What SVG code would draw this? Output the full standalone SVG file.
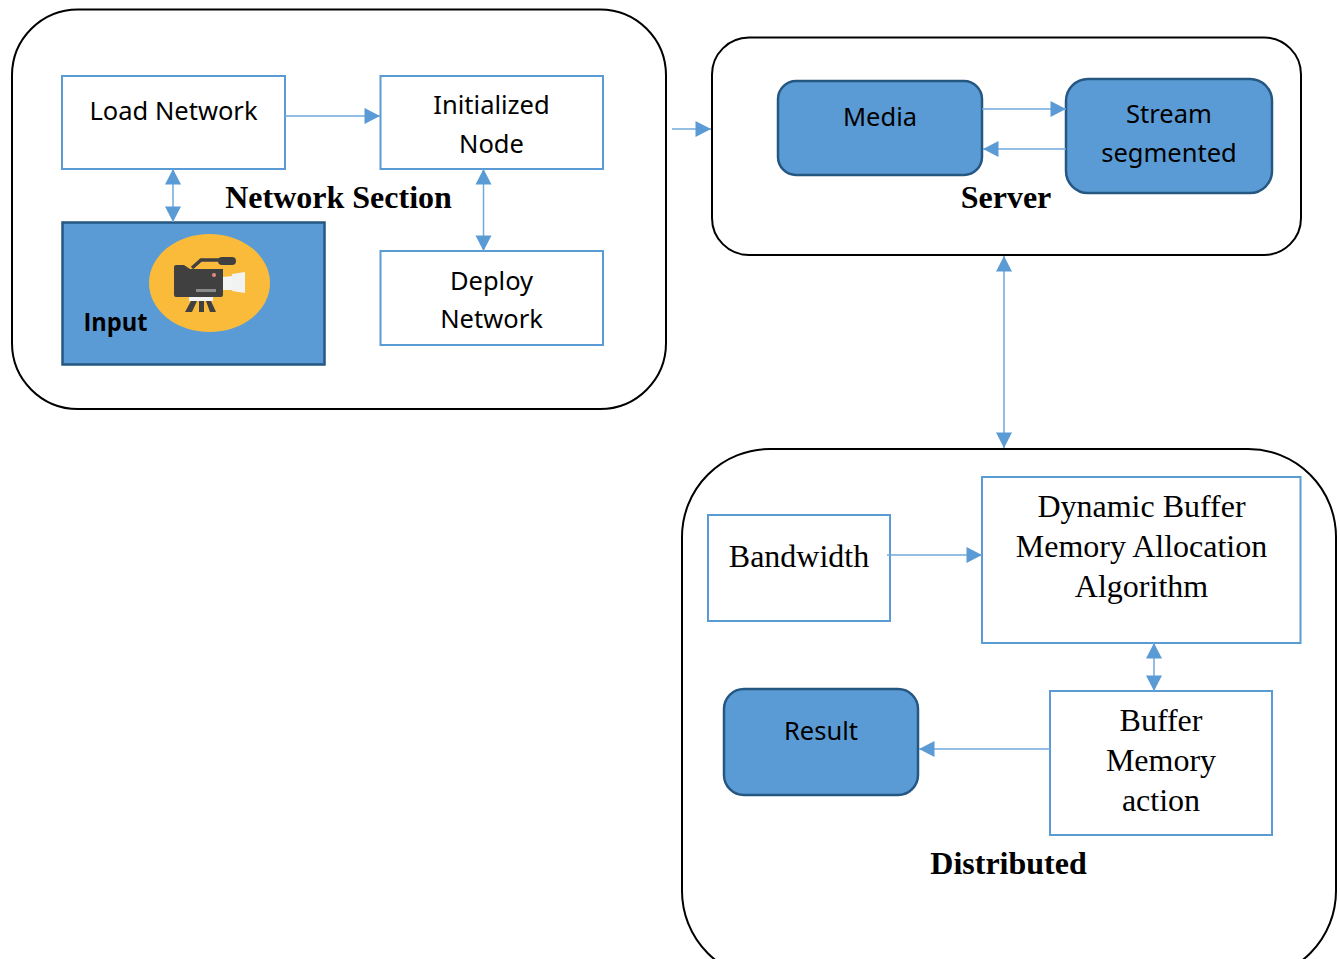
<svg xmlns="http://www.w3.org/2000/svg" width="1340" height="959" viewBox="0 0 1340 959">
<style>
.sec{fill:#fff;stroke:#000;stroke-width:2}
.box{fill:#fff;stroke:#5b9bd5;stroke-width:2}
.fill{fill:#5b9bd5;stroke:#255783;stroke-width:2.5}
.c{fill:none;stroke:#72a9db;stroke-width:1.5}
.s{font-family:"Noto Sans","Open Sans",sans-serif;font-size:25.500px;fill:#000;text-anchor:middle}
.t{font-family:"Liberation Serif",serif;font-size:32px;fill:#000;text-anchor:middle}
.b{font-family:"Liberation Serif",serif;font-size:32px;font-weight:bold;fill:#000;text-anchor:middle}
</style>
<defs>
<marker id="e" markerUnits="userSpaceOnUse" markerWidth="17" markerHeight="17" refX="16" refY="8.500" orient="auto-start-reverse"><path d="M0.500 0.500L16 8.500L0.500 16.500Z" fill="#5b9bd5"/></marker>
</defs>
<rect width="1340" height="959" fill="#fff"/>
<g id="network-section">
<rect class="sec" x="12" y="9.500" width="654" height="399.500" rx="66"/>
<text class="b" x="338.500" y="208">Network Section</text>
</g>
<g id="server">
<rect class="sec" x="712" y="37.500" width="589" height="217.500" rx="37"/>
<text class="b" x="1006" y="208">Server</text>
</g>
<g id="distributed">
<rect class="sec" x="682" y="449" width="654" height="530" rx="88"/>
<text class="b" x="1008.500" y="874">Distributed</text>
</g>
<g id="load-network">
<rect class="box" x="62" y="76" width="223" height="93"/>
<text class="s" x="173.500" y="120">Load Network</text>
</g>
<g id="initialized-node">
<rect class="box" x="380.500" y="76" width="222.500" height="93"/>
<text class="s" x="491.500" y="114">Initialized</text>
<text class="s" x="491.500" y="153">Node</text>
</g>
<g id="deploy-network">
<rect class="box" x="380.500" y="251" width="222.500" height="94"/>
<text class="s" x="491.500" y="290">Deploy</text>
<text class="s" x="491.500" y="328">Network</text>
</g>
<g id="input">
<rect class="fill" x="62.500" y="222.500" width="262" height="142"/>
<ellipse cx="209.500" cy="283" rx="60.500" ry="49" fill="#fbbb3a"/>
<path d="M192 268L201 260H222" fill="none" stroke="#404040" stroke-width="3.500"/>
<rect x="218" y="257" width="18" height="8" rx="4" fill="#404040"/>
<path d="M174 267Q174 265 176 265H184L190 269H223V295Q223 297 221 297H176Q174 297 174 295Z" fill="#404040"/>
<circle cx="214" cy="275" r="2" fill="#e88a80"/>
<rect x="196" y="289" width="20" height="3" fill="#8a8a8a"/>
<path d="M223 277L232 276V290L223 290Z" fill="#f4f4f4"/>
<path d="M232 274L245 272V293L232 291Z" fill="#f1f3f3"/>
<rect x="189" y="297" width="24" height="4" fill="#f4f4f4"/>
<path d="M191 301H197L192 312H185ZM199 301H204V312H199ZM206 301H211L216 312H210Z" fill="#404040"/>
<text x="115.500" y="331" font-family="'Open Sans','Noto Sans',sans-serif" font-size="25" font-weight="700" text-anchor="middle" textLength="64" lengthAdjust="spacingAndGlyphs">Input</text>
</g>
<g id="media">
<rect class="fill" x="778" y="81" width="204" height="94" rx="18"/>
<text class="s" x="880" y="126">Media</text>
</g>
<g id="stream-segmented">
<rect class="fill" x="1066" y="79" width="206" height="114" rx="22"/>
<text class="s" x="1169" y="123">Stream</text>
<text class="s" x="1169" y="162">segmented</text>
</g>
<g id="bandwidth">
<rect class="box" x="708" y="515" width="182" height="106"/>
<text class="t" x="799" y="567">Bandwidth</text>
</g>
<g id="dynamic-buffer">
<rect class="box" x="982" y="477" width="318.500" height="166"/>
<text class="t" x="1141.500" y="517">Dynamic Buffer</text>
<text class="t" x="1141.500" y="557">Memory Allocation</text>
<text class="t" x="1141.500" y="597">Algorithm</text>
</g>
<g id="buffer-memory">
<rect class="box" x="1050" y="691" width="222" height="144"/>
<text class="t" x="1161" y="731">Buffer</text>
<text class="t" x="1161" y="771">Memory</text>
<text class="t" x="1161" y="811">action</text>
</g>
<g id="result">
<rect class="fill" x="724" y="689" width="194" height="106" rx="20"/>
<text class="s" x="821" y="740">Result</text>
</g>
<g id="connectors">
<path class="c" d="M285 116H380" marker-end="url(#e)"/>
<path class="c" d="M173 169V222" marker-start="url(#e)" marker-end="url(#e)"/>
<path class="c" d="M483.500 169V251" marker-start="url(#e)" marker-end="url(#e)"/>
<path class="c" d="M672 129H711" marker-end="url(#e)"/>
<path class="c" d="M982 109H1066" marker-end="url(#e)"/>
<path class="c" d="M1066 149H983" marker-end="url(#e)"/>
<path class="c" d="M1004 256V448" marker-start="url(#e)" marker-end="url(#e)"/>
<path class="c" d="M887 555H982" marker-end="url(#e)"/>
<path class="c" d="M1154 643V691" marker-start="url(#e)" marker-end="url(#e)"/>
<path class="c" d="M1050 749H919" marker-end="url(#e)"/>
</g>
</svg>
